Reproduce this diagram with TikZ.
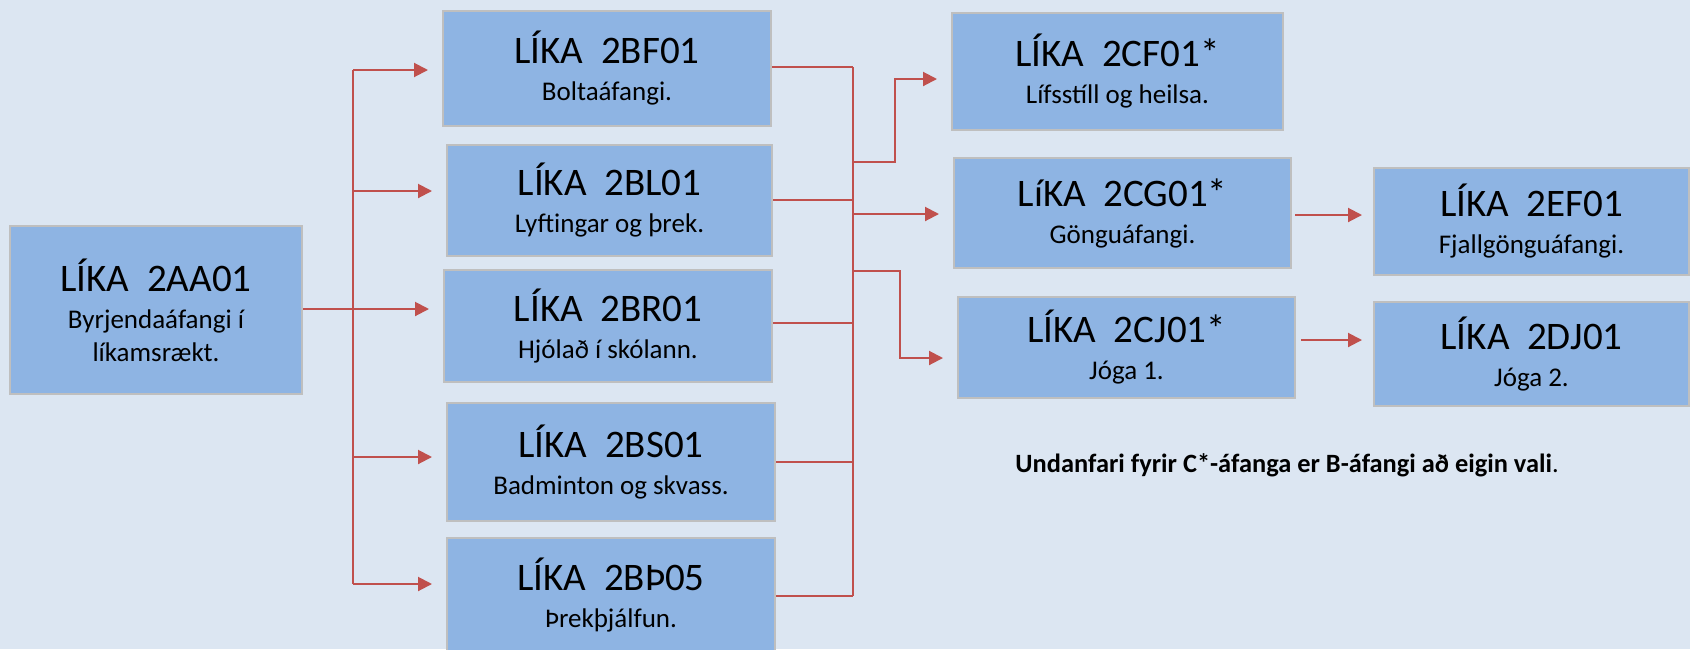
\documentclass[tikz,border=0pt]{standalone}
\usepackage{fontspec}
\setmainfont{Carlito}
\usetikzlibrary{arrows.meta,calc}
\definecolor{bgblue}{HTML}{DCE6F2}
\definecolor{boxblue}{HTML}{8EB4E3}
\definecolor{boxline}{HTML}{BFBFBF}
\definecolor{linkred}{HTML}{C0504D}
\newcommand{\course}[2]{{\fontsize{19.5}{23}\selectfont #1}\\[2pt] #2}

\begin{document}
\begin{tikzpicture}[x=0.5pt, y=-0.5pt,
	main/.style = {draw=boxline, line width=1pt, fill=boxblue, align=center, inner sep=0pt, font=\fontsize{13.5}{16.5}\selectfont},
	link/.style = {draw=linkred, line width=1pt},
	arr/.style = {link, -{Triangle[length=7pt,width=7pt]}, shorten >=7pt}]
		\useasboundingbox (0,0) rectangle (1690,649);
		\clip (0,0) rectangle (1690,649);
		\fill[bgblue] (0,0) rectangle (1690,649);
		\node (aa) [main, minimum width=146pt, minimum height=84pt] at (156,310) {\course{LÍKA\ \ 2AA01}{Byrjendaáfangi í\\ líkamsrækt.}};
		\node (bf) [main, minimum width=164pt, minimum height=57.5pt] at (607,68.5) {\course{LÍKA\ \ 2BF01}{Boltaáfangi.}};
		\node (bl) [main, minimum width=162.5pt, minimum height=55.5pt] at (609.5,200.5) {\course{LÍKA\ \ 2BL01}{Lyftingar og þrek.}};
		\node (br) [main, minimum width=164pt, minimum height=56pt] at (608,326) {\course{LÍKA\ \ 2BR01}{Hjólað í skólann.}};
		\node (bs) [main, minimum width=164pt, minimum height=59pt] at (611,462) {\course{LÍKA\ \ 2BS01}{Badminton og skvass.}};
		\node (bth) [main, minimum width=164pt, minimum height=57.5pt] at (611,595.5) {\course{LÍKA\ \ 2BÞ05}{Þrekþjálfun.}};
		\node (cf) [main, minimum width=165.5pt, minimum height=58.5pt] at (1117.5,71.5) {\course{LÍKA\ \ 2CF01*}{Lífsstíll og heilsa.}};
		\node (cg) [main, minimum width=168.5pt, minimum height=55pt] at (1122.5,213) {\course{LíKA\ \ 2CG01*}{Gönguáfangi.}};
		\node (cj) [main, minimum width=168.5pt, minimum height=50.5pt] at (1126.5,347.5) {\course{LÍKA\ \ 2CJ01*}{Jóga 1.}};
		\node (ef) [main, minimum width=157.5pt, minimum height=53.5pt] at (1531.5,221.5) {\course{LÍKA\ \ 2EF01}{Fjallgönguáfangi.}};
		\node (dj) [main, minimum width=157.5pt, minimum height=52pt] at (1531.5,354) {\course{LÍKA\ \ 2DJ01}{Jóga 2.}};
		\node (note) [anchor=base west, inner sep=0pt, font=\fontsize{13.2}{15}\selectfont] at (1015,472) {\textbf{Undanfari fyrir C*-áfanga er B-áfangi að eigin vali}.};
		\coordinate (l1) at (353,70);
		\coordinate (l2) at (353,191);
		\coordinate (l3) at (353,309);
		\coordinate (l4) at (353,457);
		\coordinate (l5) at (353,584);
		\coordinate (r1) at (853,67);
		\coordinate (r5) at (853,596);
		\coordinate (o1) at (853,162);
		\coordinate (o2) at (853,214);
		\coordinate (o3) at (853,271);
		\draw[link]  (l1) -- (l5);
		\draw[link]  (r1) -- (r5);
		\draw[link]  (aa.east |- l3) -- (l3);
		\draw[arr]  (l1) -- (bf.west |- l1);
		\draw[arr]  (l2) -- (bl.west |- l2);
		\draw[arr]  (l3) -- (br.west |- l3);
		\draw[arr]  (l4) -- (bs.west |- l4);
		\draw[arr]  (l5) -- (bth.west |- l5);
		\draw[link]  (bf.east |- r1) -- (r1);
		\draw[link]  (bl.east) ++(0,0.25pt) -- (853,200);
		\draw[link]  (br.east |- 0,323) -- (853,323);
		\draw[link]  (bs.east) -- (bs.east -| r1);
		\draw[link]  (bth.east) -- (bth.east -| r1);
		\draw[arr]  (o1) -- (895,162) |- ([yshift=-3.75pt]cf.west);
		\draw[arr]  (o2) -- (o2 -| cg.west);
		\draw[arr]  (o3) -- (900,271) |- ([yshift=-5.25pt]cj.west);
		\draw[arr, shorten <=1.5pt, shorten >=5.5pt]  ([yshift=-1pt]cg.east) -- ([yshift=-1pt]cg.east -| ef.west);
		\draw[arr, shorten <=2.5pt, shorten >=5.5pt]  ([yshift=3.75pt]cj.east) -- ([yshift=3.75pt]cj.east -| dj.west);
	\end{tikzpicture}
\end{document}
